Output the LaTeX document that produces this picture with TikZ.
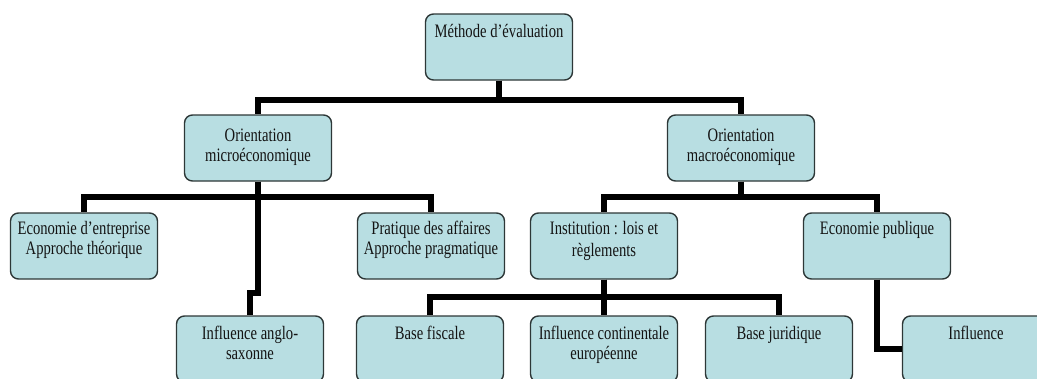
\documentclass[tikz,border=0pt]{standalone}
\usepackage{fontspec}
\setmainfont[FakeStretch=0.77]{Liberation Serif}
\usetikzlibrary{positioning}

\definecolor{boxfill}{RGB}{184,222,226}
\definecolor{boxline}{RGB}{45,55,55}

% text of a box, pushed down from its top edge
\newcommand{\boxtext}[2][9pt]{\parbox[c][66pt][t]{147pt}{\vspace*{#1}\centering\strut #2}}

\tikzset{
  box/.style={draw=boxline, fill=boxfill, line width=1.4pt, rounded corners=8pt,
    inner sep=0pt, font=\fontsize{19}{20}\selectfont, text=black!92},
  link/.style={line width=5.5pt, black}
}

\begin{document}
\begin{tikzpicture}[x=1pt, y=-1pt]

	\path[use as bounding box, clip] (0,0) rectangle (1037,378);

	% level 0 and 1
	\node[box] (root) at (499,47) {\boxtext{Méthode d’évaluation}};
	\node[box] (micro) at (258,148) {\boxtext[12pt]{Orientation\\microéconomique}};
	\node[box] (macro) at (741,148) {\boxtext[12pt]{Orientation\\macroéconomique}};

	% level 2
	\node[box] (entr) at (84,246) {\boxtext[7pt]{Economie d’entreprise\\Approche théorique}};
	\node[box] (prat) at (431,246) {\boxtext[7pt]{Pratique des affaires\\Approche pragmatique}};
	\node[box] (inst) at (604,246) {\boxtext[7pt]{Institution : lois et\\[2pt]règlements}};
	\node[box] (ecopub) at (877,246) {\boxtext[7pt]{Economie publique}};

	% level 3
	\node[box] (anglo) at (250,349) {\boxtext{Influence anglo-\\saxonne}};
	\node[box] (fisc) at (430,349) {\boxtext{Base fiscale}};
	\node[box] (conti) at (604,349) {\boxtext{Influence continentale\\européenne}};
	\node[box] (jurid) at (779,349) {\boxtext{Base juridique}};
	\node[box] (infl) at (976,349) {\boxtext{Influence}};

	% connectors
	\draw[link] (root.south) -- (root.south |- 0,100) -| (micro.north);
	\draw[link] (root.south) -- (root.south |- 0,100) -| (macro.north);

	\draw[link] (micro.south) -- (micro.south |- 0,197) -| (entr.north);
	\draw[link] (micro.south) -- (micro.south |- 0,197) -| (prat.north);
	\draw[link] (micro.south) |- (anglo.north |- 0,293) -- (anglo.north);

	\draw[link] (macro.south) -- (macro.south |- 0,197) -| (inst.north);
	\draw[link] (macro.south) -- (macro.south |- 0,197) -| (ecopub.north);

	\draw[link] (inst.south) -- (inst.south |- 0,297) -| (fisc.north);
	\draw[link] (inst.south) -- (conti.north);
	\draw[link] (inst.south) -- (inst.south |- 0,297) -| (jurid.north);

	\draw[link] (ecopub.south) |- (infl.west);

\end{tikzpicture}
\end{document}
